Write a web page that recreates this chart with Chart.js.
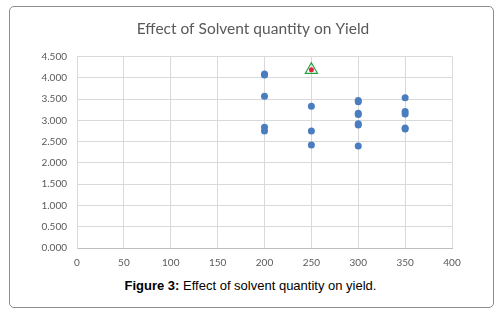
<!DOCTYPE html>
<html>
<head>
<meta charset="utf-8">
<script src="https://cdn.jsdelivr.net/npm/chart.js@4"></script>
<style>
  body { margin: 0; background: #fff; }
  #frame {
    position: absolute; left: 9px; top: 6px; width: 483px; height: 300px;
    border: 1px solid #8c8c8c; border-radius: 5px;
  }
  #wrap { position: absolute; left: 0; top: 0; width: 501px; height: 275px; }
  #caption {
    position: absolute; left: 0; top: 278px; width: 501px; text-align: center;
    font-family: "Liberation Sans", Arial, sans-serif; font-size: 13px; color: #000;
  }
</style>
</head>
<body>
<div id="frame"></div>
<div id="wrap"><canvas id="c" width="501" height="275"></canvas></div>
<div id="caption"><b>Figure 3:</b> Effect of solvent quantity on yield.</div>
<script>
// solvent quantity vs yield
const solventQty = [200, 200, 200, 200, 200, 250, 250, 250, 300, 300, 300, 300, 300, 300, 300, 350, 350, 350, 350, 350];
const yieldVals  = [4.07, 4.09, 3.57, 2.84, 2.75, 3.33, 2.75, 2.42, 3.44, 3.47, 3.14, 3.17, 2.89, 2.92, 2.40, 3.53, 3.21, 3.15, 2.80, 2.82];
const highlightX = [250];
const highlightY = [4.19];

const xTicks = [0, 50, 100, 150, 200, 250, 300, 350, 400];

const pts = solventQty.map((x, i) => ({ x: x, y: yieldVals[i] }));
const hi = highlightX.map((x, i) => ({ x: x, y: highlightY[i] }));

const tickFont = { family: "Lato, 'Open Sans', sans-serif", size: 10 };

// centre the title on the whole frame, not just the plot width
const centreTitle = {
  id: 'centreTitle',
  afterLayout(chart) {
    if (chart.titleBlock) { chart.titleBlock.left = 0; chart.titleBlock.right = 506; }
  }
};

new Chart(document.getElementById('c'), {
  type: 'scatter',
  data: {
    datasets: [
      {
        data: hi,
        pointStyle: 'circle',
        pointRadius: 2.5,
        backgroundColor: '#e8203a',
        borderColor: '#e8203a',
        borderWidth: 0
      },
      {
        data: hi,
        pointStyle: 'triangle',
        pointRadius: 7,
        backgroundColor: 'rgba(0,0,0,0)',
        borderColor: '#1fa33a',
        borderWidth: 1.2
      },
      {
        data: pts,
        pointStyle: 'circle',
        pointRadius: 3.5,
        backgroundColor: '#4a7dbf',
        borderColor: '#4a7dbf',
        borderWidth: 0
      }
    ]
  },
  plugins: [centreTitle],
  options: {
    responsive: false,
    animation: false,
    layout: { padding: { left: 0, right: 49, top: 20, bottom: 0 } },
    plugins: {
      legend: { display: false },
      tooltip: { enabled: false },
      title: {
        display: true,
        text: 'Effect of Solvent quantity on Yield',
        color: '#595959',
        font: { family: "Lato, 'Open Sans', sans-serif", size: 15.5, weight: 'normal' },
        padding: { top: 0, bottom: 18 }
      }
    },
    scales: {
      x: {
        type: 'linear',
        min: 0, max: 400,
        afterBuildTicks: (s) => { s.ticks = xTicks.map(v => ({ value: v })); },
        afterFit: (s) => { s.height = 27; },
        grid: { color: '#d9d9d9', drawTicks: false },
        border: { color: '#bfbfbf' },
        ticks: { color: '#595959', font: tickFont, padding: 9, maxRotation: 0 }
      },
      y: {
        min: 0, max: 4.5,
        ticks: {
          stepSize: 0.5, color: '#595959', font: tickFont, padding: 10,
          callback: (v) => Number(v).toFixed(3)
        },
        afterFit: (s) => { s.width = 77; },
        grid: { color: '#d9d9d9', drawTicks: false },
        border: { color: '#d9d9d9' }
      }
    }
  }
});
</script>
</body>
</html>
